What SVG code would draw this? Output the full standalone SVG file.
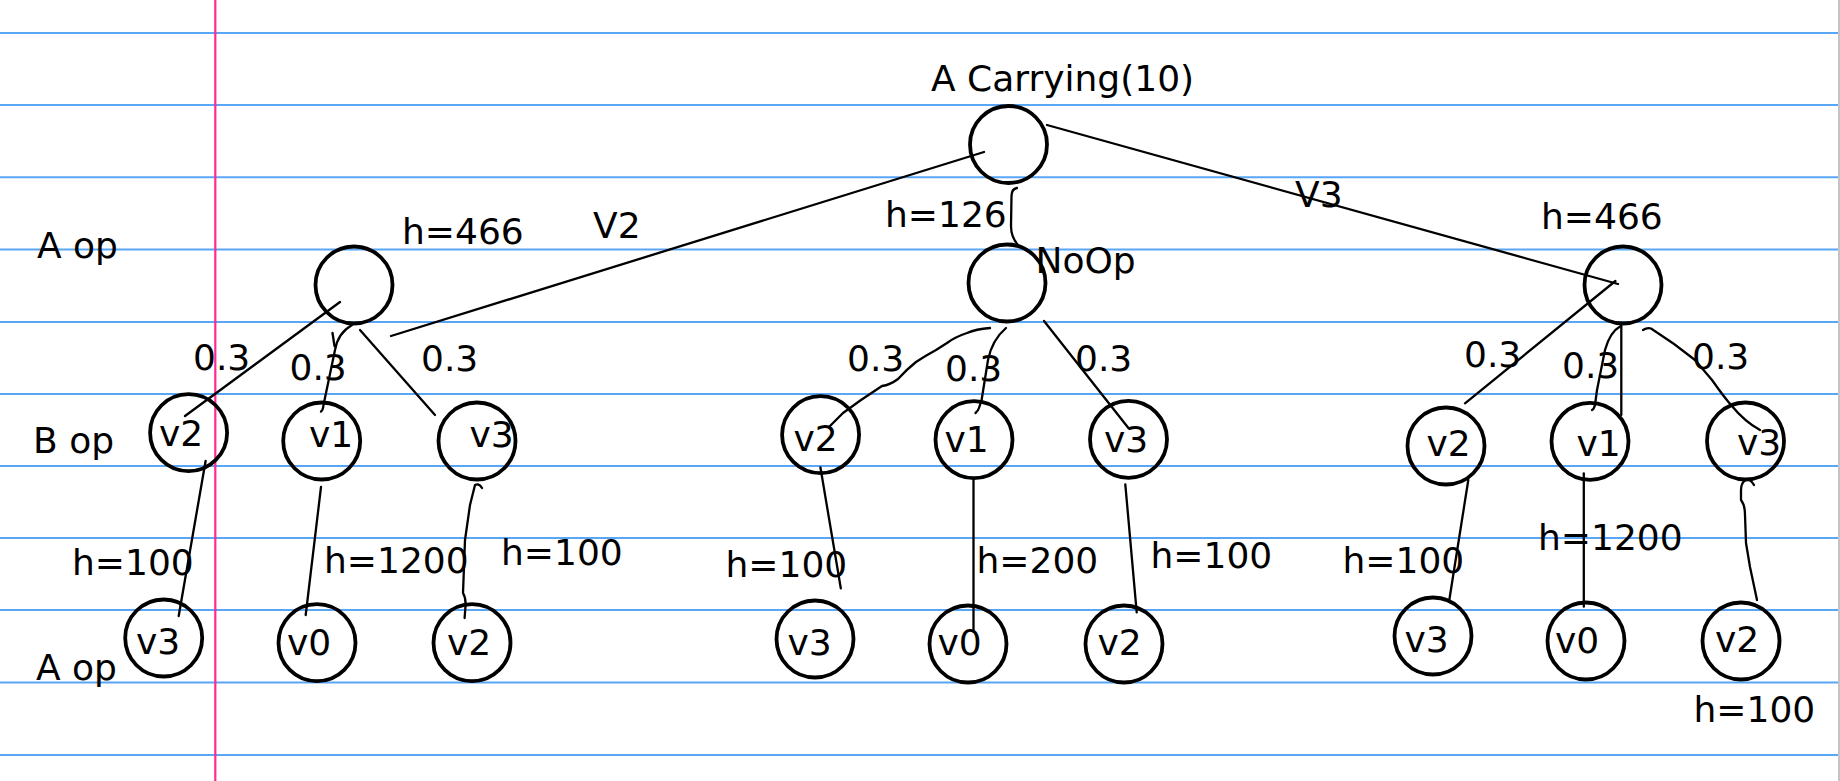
<svg xmlns="http://www.w3.org/2000/svg" width="1840" height="781" viewBox="0 0 1840 781">
<style>
.rule{stroke:#5aa6f6;stroke-width:2;fill:none}
.margin{stroke:#ff2a90;stroke-width:2.2;fill:none}
.node circle{fill:none;stroke:#000;stroke-width:3.8}
.edge{fill:none;stroke:#000;stroke-width:2.3;stroke-linecap:round;stroke-linejoin:round}
text{font-family:"DejaVu Sans","Liberation Sans",sans-serif;font-size:36px;fill:#000}
</style>
<rect width="1840" height="781" fill="#fff"/>
<g id="paper">
<line class="rule" x1="0" y1="33" x2="1838" y2="33"/>
<line class="rule" x1="0" y1="105" x2="1838" y2="105"/>
<line class="rule" x1="0" y1="177.3" x2="1838" y2="177.3"/>
<line class="rule" x1="0" y1="249.5" x2="1838" y2="249.5"/>
<line class="rule" x1="0" y1="322" x2="1838" y2="322"/>
<line class="rule" x1="0" y1="394" x2="1838" y2="394"/>
<line class="rule" x1="0" y1="466" x2="1838" y2="466"/>
<line class="rule" x1="0" y1="538" x2="1838" y2="538"/>
<line class="rule" x1="0" y1="610" x2="1838" y2="610"/>
<line class="rule" x1="0" y1="682.5" x2="1838" y2="682.5"/>
<line class="rule" x1="0" y1="755" x2="1838" y2="755"/>
<line class="margin" x1="215.3" y1="0" x2="215.3" y2="781"/>
<line x1="1839" y1="0" x2="1839" y2="781" stroke="#b0b0b0" stroke-width="1.5"/>
</g>
<g id="row-labels">
<text x="37" y="258">A op</text>
<text x="33" y="452.7">B op</text>
<text x="36" y="680">A op</text>
</g>
<g id="connectors">
<path class="edge" d="M984,152 L391,336"/>
<path class="edge" d="M1047,125 L1618,284"/>
<path class="edge" d="M1017,188 Q1011.5,189 1011.5,196 L1011,226 Q1011,238 1019,246"/>
<path class="edge" d="M340,302 L185,416"/>
<path class="edge" d="M352,325 Q338,333 335,350 L326,393 L323.5,405 Q323,410 321,411.5"/>
<path class="edge" d="M332.5,333 L334.5,346"/>
<path class="edge" d="M360,330 L435,415"/>
<path class="edge" d="M205.6,461 L178.7,616"/>
<path class="edge" d="M321,487 L305.7,615"/>
<path class="edge" d="M482,488 Q479,483 475,485 L470,505 L465,540 L463,593 Q466,598 465.5,606 L464.6,618"/>
<path class="edge" d="M990,328 Q976,329 967,333 Q955,337 947,343 L936,350 Q925,356 916,362 Q906,370 898,379 Q890,385 882,386 L861,400 L843,413 L829,427"/>
<path class="edge" d="M1006,328 Q992,340 988,360 L981.6,400 L979,408 Q978,411 975.5,413"/>
<path class="edge" d="M1044,321 L1128.6,428.3"/>
<path class="edge" d="M820.4,467.3 L840.8,588.3"/>
<path class="edge" d="M973.5,479.3 L973.5,631.7"/>
<path class="edge" d="M1125.3,484.3 L1136.7,612.3"/>
<path class="edge" d="M1615.4,281 L1465,403.3"/>
<path class="edge" d="M1620,326.5 Q1610,332 1605,350 L1597,390 L1595,405 Q1594,409 1592,410"/>
<path class="edge" d="M1621.3,325 L1621.3,415"/>
<path class="edge" d="M1643,330 Q1647,327.5 1651,328.5 Q1674,343 1695,360 L1712,380 Q1724,397 1731,405 Q1745,422 1760,430"/>
<path class="edge" d="M1468.3,480 L1449.3,600"/>
<path class="edge" d="M1583.8,473.3 L1583.8,606.7"/>
<path class="edge" d="M1754,485 Q1750,478 1745.5,480 Q1741,483 1741,490 L1741,500 Q1745,505 1745,515 L1746,543 L1750,567 L1757,600"/>
</g>
<g id="edge-labels">
<text x="593" y="238">V2</text>
<text x="1295" y="207">V3</text>
<text x="885" y="227">h=126</text>
<text x="193" y="370">0.3</text>
<text x="289.5" y="380">0.3</text>
<text x="421" y="371">0.3</text>
<text x="847" y="371">0.3</text>
<text x="945" y="381">0.3</text>
<text x="1075" y="371">0.3</text>
<text x="1464" y="367">0.3</text>
<text x="1562" y="378">0.3</text>
<text x="1692" y="369">0.3</text>
<text x="72" y="575">h=100</text>
<text x="324" y="573">h=1200</text>
<text x="501" y="565">h=100</text>
<text x="725.5" y="577">h=100</text>
<text x="976.5" y="573">h=200</text>
<text x="1150.5" y="568">h=100</text>
<text x="1342.5" y="573">h=100</text>
<text x="1538" y="550">h=1200</text>
<text x="1693.5" y="722">h=100</text>
</g>
<g id="n-root" class="node"><circle cx="1008.5" cy="144.5" r="38.5"/><text x="931" y="90.5">A Carrying(10)</text></g>
<g id="n-left" class="node"><circle cx="354" cy="285" r="38.5"/><text x="402" y="244">h=466</text></g>
<g id="n-noop" class="node"><circle cx="1007" cy="283" r="38.5"/><text x="1035.5" y="273">NoOp</text></g>
<g id="n-right" class="node"><circle cx="1623" cy="285" r="38.5"/><text x="1541" y="229">h=466</text></g>
<g id="n-l-v2" class="node"><circle cx="188.6" cy="432.7" r="38.5"/><text x="159" y="446">v2</text></g>
<g id="n-l-v1" class="node"><circle cx="321.7" cy="441" r="38.5"/><text x="309" y="447">v1</text></g>
<g id="n-l-v3" class="node"><circle cx="477" cy="441" r="38.5"/><text x="469.5" y="447">v3</text></g>
<g id="n-m-v2" class="node"><circle cx="820.6" cy="434.7" r="38.5"/><text x="793.5" y="451">v2</text></g>
<g id="n-m-v1" class="node"><circle cx="974" cy="439.7" r="38.5"/><text x="944.5" y="452">v1</text></g>
<g id="n-m-v3" class="node"><circle cx="1128.5" cy="439.3" r="38.5"/><text x="1104" y="452">v3</text></g>
<g id="n-r-v2" class="node"><circle cx="1446" cy="446" r="38.5"/><text x="1426.5" y="456">v2</text></g>
<g id="n-r-v1" class="node"><circle cx="1590" cy="441.3" r="38.5"/><text x="1576.5" y="456">v1</text></g>
<g id="n-r-v3" class="node"><circle cx="1745.5" cy="441" r="38.5"/><text x="1737" y="455">v3</text></g>
<g id="n-l-v3b" class="node"><circle cx="163.7" cy="638" r="38.5"/><text x="136" y="654">v3</text></g>
<g id="n-l-v0b" class="node"><circle cx="317" cy="642.7" r="38.5"/><text x="287" y="655">v0</text></g>
<g id="n-l-v2b" class="node"><circle cx="472" cy="642.7" r="38.5"/><text x="447" y="655">v2</text></g>
<g id="n-m-v3b" class="node"><circle cx="815" cy="639" r="38.5"/><text x="787.5" y="655">v3</text></g>
<g id="n-m-v0b" class="node"><circle cx="968" cy="644" r="38.5"/><text x="937.5" y="655">v0</text></g>
<g id="n-m-v2b" class="node"><circle cx="1124" cy="644" r="38.5"/><text x="1097.5" y="655">v2</text></g>
<g id="n-r-v3b" class="node"><circle cx="1433" cy="636" r="38.5"/><text x="1404.5" y="652">v3</text></g>
<g id="n-r-v0b" class="node"><circle cx="1586" cy="641" r="38.5"/><text x="1555" y="653">v0</text></g>
<g id="n-r-v2b" class="node"><circle cx="1741" cy="641" r="38.5"/><text x="1715" y="652">v2</text></g>
</svg>
